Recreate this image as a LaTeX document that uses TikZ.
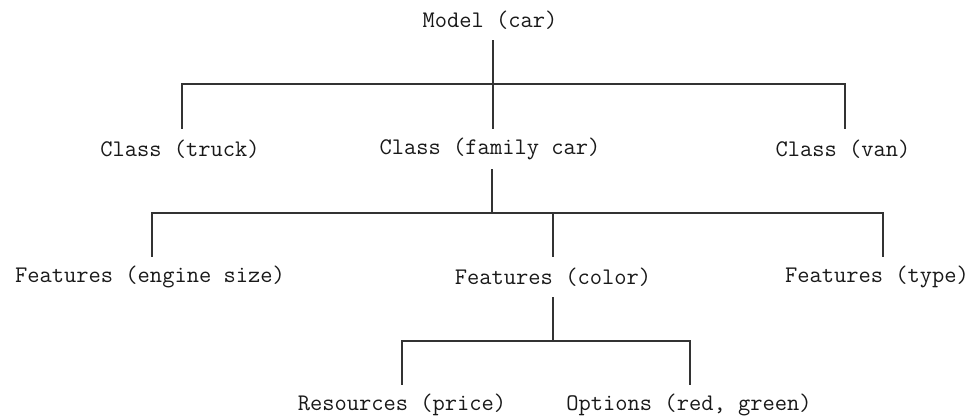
\documentclass[tikz,border=0pt]{standalone}
\usepackage{fontspec}
\begin{document}
\begin{tikzpicture}[x=1pt,y=-1pt,
  lbl/.style={font=\ttfamily\fontsize{23.8}{26}\selectfont, text=black!90, inner sep=0pt, minimum height=41pt, anchor=center},
  conn/.style={draw=black!80, line width=1.3pt, line cap=rect}]
\useasboundingbox[fill=white] (0,0) rectangle (977,417);
% nodes
\node[lbl] (m)  at (490,20)  {Model (car)};
\node[lbl] (ct) at (180,149) {Class (truck)};
\node[lbl] (cf) at (490,149) {Class (family car)};
\node[lbl] (cv) at (843,149) {Class (van)};
\node[lbl] (fe) at (150,277) {Features (engine size)};
\node[lbl] (fc) at (553,277) {Features (color)};
\node[lbl] (ft) at (877,277) {Features (type)};
\node[lbl] (rp) at (402,405) {Resources (price)};
\node[lbl] (op) at (689,405) {Options (red, green)};
% junction coordinates
\coordinate (j1) at (493,84);
\coordinate (j1l) at (182,84);
\coordinate (j1r) at (845,84);
\coordinate (j2) at (492,213);
\coordinate (j2l) at (152,213);
\coordinate (j2m) at (553,213);
\coordinate (j2r) at (883,213);
\coordinate (j3) at (553,341);
\coordinate (j3l) at (402,341);
\coordinate (j3r) at (690,341);
% connectors
\draw[conn] (j1 |- m.south) -- (j1);
\draw[conn] (j1l |- ct.north) -- (j1l) -- (j1r) -- (j1r |- cv.north);
\draw[conn] (j1) -- (j1 |- cf.north);
\draw[conn] (j2 |- cf.south) -- (j2);
\draw[conn] (j2l |- fe.north) -- (j2l) -- (j2r) -- (j2r |- ft.north);
\draw[conn] (j2m) -- (j2m |- fc.north);
\draw[conn] (j3 |- fc.south) -- (j3);
\draw[conn] (j3l |- rp.north) -- (j3l) -- (j3r) -- (j3r |- op.north);
\end{tikzpicture}
\end{document}
